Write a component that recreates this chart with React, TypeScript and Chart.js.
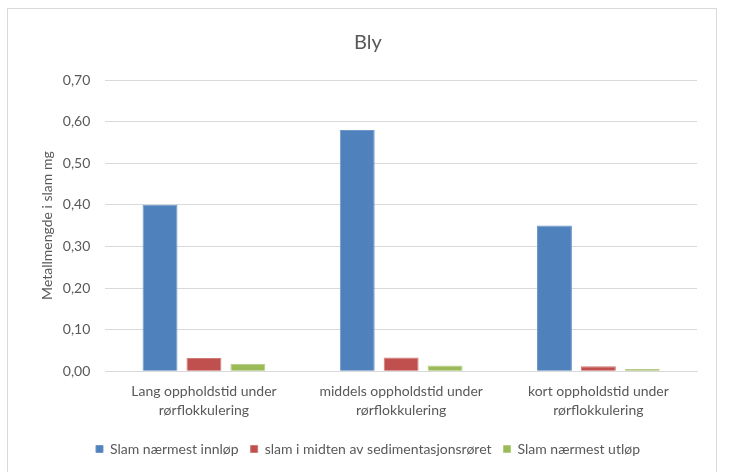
import React, { useEffect, useRef } from "react";
import { Chart, registerables } from "chart.js";

Chart.register(...registerables);

const categories: string[][] = [
  ["Lang oppholdstid under", "rørflokkulering"],
  ["middels oppholdstid under", "rørflokkulering"],
  ["kort oppholdstid under", "rørflokkulering"],
];

const seriesNames = [
  "Slam nærmest innløp",
  "slam i midten av sedimentasjonsrøret",
  "Slam nærmest utløp",
];

const innlop = [0.4, 0.58, 0.35];
const midten = [0.032, 0.033, 0.012];
const utlop = [0.018, 0.014, 0.005];

const yTicks = [0, 0.1, 0.2, 0.3, 0.4, 0.5, 0.6, 0.7];

const FONT = "Lato, 'Open Sans', sans-serif";
const TEXT = "#595959";
const GRID = "#d9d9d9";

export default function App() {
  const ref = useRef<HTMLCanvasElement | null>(null);

  useEffect(() => {
    if (!ref.current) return;
    const chart = new Chart(ref.current, {
      type: "bar",
      data: {
        labels: categories,
        datasets: [
          { label: seriesNames[0], data: innlop, backgroundColor: "#4F81BD", borderColor: "#6f97c9", borderWidth: 1 },
          { label: seriesNames[1], data: midten, backgroundColor: "#C0504D", borderColor: "#cf7a77", borderWidth: 1 },
          { label: seriesNames[2], data: utlop, backgroundColor: "#9BBB59", borderColor: "#b5cd85", borderWidth: 1 },
        ],
      },
      options: {
        animation: false,
        responsive: false,
        maintainAspectRatio: false,
        layout: { padding: { left: 39, right: 32, top: 31, bottom: 6 } },
        datasets: { bar: { categoryPercentage: 0.668, barPercentage: 0.795 } },
        plugins: {
          title: {
            display: true,
            text: "Bly",
            color: TEXT,
            font: { family: FONT, size: 20, weight: "normal" },
            padding: { top: 0, bottom: 25 },
          },
          legend: {
            position: "bottom",
            labels: {
              color: TEXT,
              boxWidth: 7,
              boxHeight: 7,
              padding: 12,
              font: { family: FONT, size: 14 },
            },
          },
          tooltip: { enabled: false },
        },
        scales: {
          x: {
            grid: { display: false },
            border: { color: GRID },
            ticks: {
              color: TEXT,
              font: { family: FONT, size: 14, lineHeight: 1.35 },
              padding: 3,
              maxRotation: 0,
            },
            afterFit: (scale: any) => {
              scale.height += 7;
            },
          },
          y: {
            min: 0,
            max: 0.7,
            afterBuildTicks: (axis: any) => {
              axis.ticks = yTicks.map((v) => ({ value: v }));
            },
            grid: { color: GRID, drawTicks: false },
            border: { display: false },
            ticks: {
              color: TEXT,
              padding: 15,
              font: { family: FONT, size: 14 },
              callback: (v: any) => Number(v).toFixed(2).replace(".", ","),
            },
            title: {
              display: true,
              text: "Metallmengde i slam mg",
              color: TEXT,
              font: { family: FONT, size: 14 },
              padding: { top: 0, bottom: 0 },
            },
            afterFit: (scale: any) => {
              scale.width -= 8;
            },
          },
        },
      },
    });
    return () => chart.destroy();
  }, []);

  return (
    <div style={{ position: "fixed", left: 0, top: 0, width: 729, height: 472, background: "#fff" }}>
      <div
        style={{
          position: "absolute",
          left: 7,
          top: 8,
          width: 710,
          height: 480,
          border: "1px solid #d9d9d9",
          boxSizing: "border-box",
        }}
      />
      <canvas ref={ref} width={729} height={472} style={{ position: "absolute", left: 0, top: 0 }} />
    </div>
  );
}
